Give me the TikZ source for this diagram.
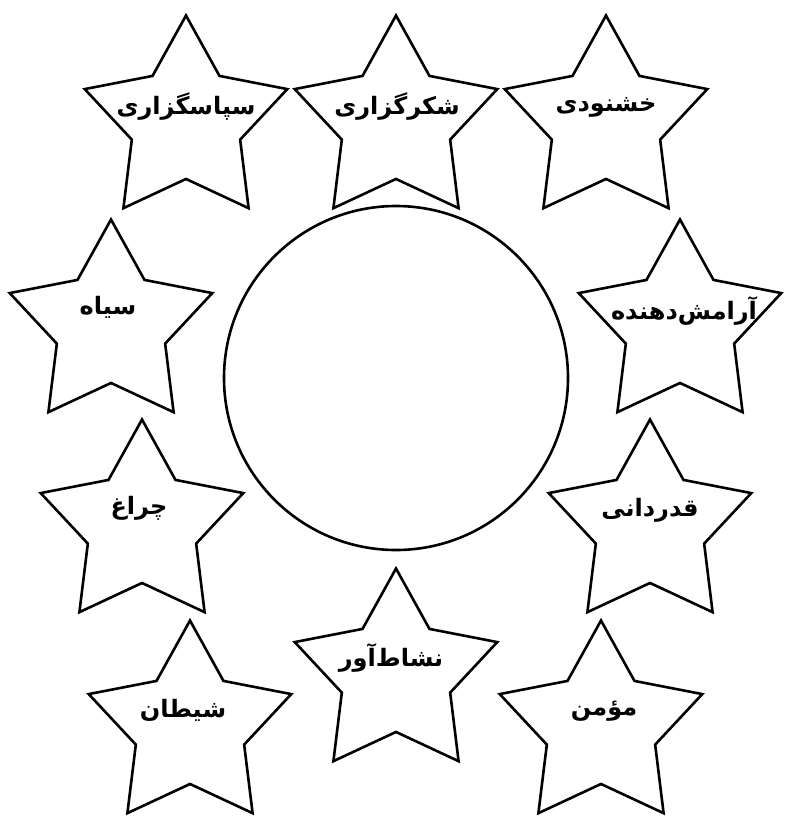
\documentclass[tikz,border=0pt]{standalone}
\usepackage{fontspec}
\usetikzlibrary{shapes.geometric}
\newfontfamily\arabicfont[Script=Arabic]{DejaVu Sans}
\TeXXeTstate=1
\tikzset{
  starbox/.style={shape=star, star points=5, star point ratio=1.87,
    minimum size=106.5pt, inner sep=0pt, outer sep=0pt, draw=black, line width=1.3pt},
  word/.style={inner sep=0pt, font=\arabicfont\bfseries\fontsize{12}{14}\selectfont},
  ring/.style={circle, draw=black, line width=1.3pt, minimum size=172pt, inner sep=0pt}
}
\begin{document}
\begin{tikzpicture}[x=0.5pt,y=-0.5pt]
\useasboundingbox[fill=white] (0,0) rectangle (787,821);
\node[ring] (c) at (396,378) {};
\node[starbox] (s1) at (186,122) {};
\node[starbox] (s2) at (396,122) {};
\node[starbox] (s3) at (606,122) {};
\node[starbox] (s4) at (111,326) {};
\node[starbox] (s5) at (680,326) {};
\node[starbox] (s6) at (142,526) {};
\node[starbox] (s7) at (650,526) {};
\node[starbox] (s8) at (190,727) {};
\node[starbox] (s9) at (396,675) {};
\node[starbox] (s10) at (601,727) {};
\node[word] (t1) at (186,107) {\beginR سپاسگزاری\endR};
\node[word] (t2) at (397,107) {\beginR شکرگزاری\endR};
\node[word] (t3) at (606,107) {\beginR خشنودی\endR};
\node[word] (t4) at (108,307) {\beginR سیاه\endR};
\node[word] (t5) at (684,311) {\beginR آرامش‌دهنده\endR};
\node[word] (t6) at (139,508) {\beginR چراغ\endR};
\node[word] (t7) at (650,510) {\beginR قدردانی\endR};
\node[word] (t8) at (183,710) {\beginR شیطان\endR};
\node[word] (t9) at (391,658) {\beginR نشاط‌آور\endR};
\node[word] (t10) at (604,711) {\beginR مؤمن\endR};
\end{tikzpicture}
\end{document}
